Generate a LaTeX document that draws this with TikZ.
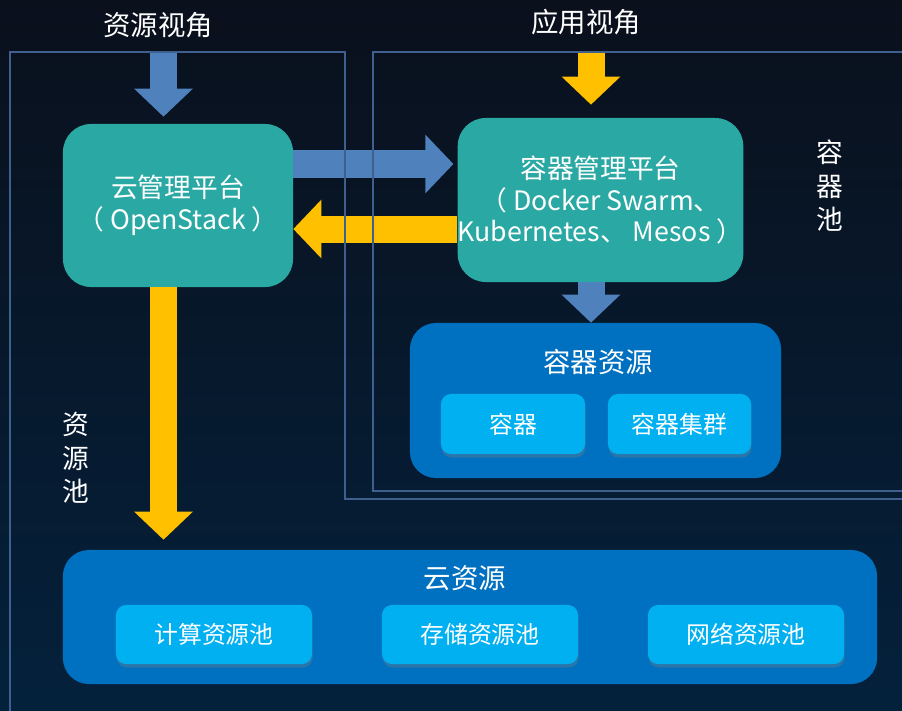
\documentclass[tikz,border=0pt]{standalone}
\usepackage{fontspec}
\setmainfont{Noto Sans CJK SC}
\usetikzlibrary{arrows.meta,shadows}
\definecolor{bgtop}{HTML}{0A101C}
\definecolor{bgbot}{HTML}{04213C}
\definecolor{frameblue}{HTML}{3F5F8E}
\definecolor{tealbox}{HTML}{2AA8A4}
\definecolor{darkbox}{HTML}{0070C0}
\definecolor{lightbox}{HTML}{00B0F0}
\definecolor{arrowblue}{HTML}{4F81BD}
\definecolor{arrowyellow}{HTML}{FFC000}
\tikzset{every node/.style={text=white, inner sep=0pt},
  pool/.style={draw=frameblue, line width=1.4pt},
  platform/.style={fill=tealbox, rounded corners=0.7cm, align=center, font=\fontsize{19}{22.5}\selectfont},
  resgroup/.style={fill=darkbox, rounded corners=0.65cm},
  resitem/.style={fill=lightbox, rounded corners=0.25cm, minimum height=1.5cm,
    font=\fontsize{17}{20}\selectfont,
    drop shadow={opacity=0.35, shadow xshift=0.5pt, shadow yshift=-2.5pt}},
  titletext/.style={font=\fontsize{19.5}{23}\selectfont},
  sidetext/.style={align=center, font=\fontsize{19}{23.8}\selectfont},
  bluearrow/.style={arrowblue, line width=0.675cm, -{Triangle[length=0.7cm, width=1.425cm]}},
  yellowarrow/.style={arrowyellow, line width=0.675cm, -{Triangle[length=0.7cm, width=1.425cm]}}}

\begin{document}
\begin{tikzpicture}[x=0.025cm, y=-0.025cm]
  \useasboundingbox (0,0) rectangle (902,711);
  \fill[top color=bgtop, bottom color=bgbot] (0,0) rectangle (902,711);

  % views
  \node[titletext] (rview) at (158,25) {资源视角};
  \node[titletext] (aview) at (586,22) {应用视角};
  \node[sidetext] (cpool) at (830,186) {容\\器\\池};
  \node[sidetext] (rpool) at (76,458) {资\\源\\池};

  % platforms
  \node[platform, minimum width=5.75cm, minimum height=4.075cm] (cms) at (178,205.5) {云管理平台\\（ OpenStack ）};
  \node[platform, minimum width=7.075cm, minimum height=4.1cm] (cmp) at (600.5,200) {容器管理平台\\（ Docker Swarm、\\Kubernetes、 Mesos ）};

  % container resources
  \node[resgroup, minimum width=9.275cm, minimum height=3.875cm] (crs) at (595.5,400.5) {};
  \node[titletext] (crstitle) at (598,362) {容器资源};
  \node[resitem, minimum width=3.6cm] (ctr) at (513,424) {容器};
  \node[resitem, minimum width=3.575cm] (cclu) at (679.5,424) {容器集群};

  % cloud resources
  \node[resgroup, minimum width=20.35cm, minimum height=3.35cm] (cres) at (470,617) {};
  \node[titletext] (crestitle) at (465,578) {云资源};
  \node[resitem, minimum width=4.9cm, minimum height=1.475cm] (comp) at (214,634.5) {计算资源池};
  \node[resitem, minimum width=4.9cm, minimum height=1.475cm] (stor) at (480,634.5) {存储资源池};
  \node[resitem, minimum width=4.9cm, minimum height=1.475cm] (netw) at (746,634.5) {网络资源池};

  % arrows
  \coordinate (rtop) at (163.5,53);
  \coordinate (atop) at (591,53);
  \draw[bluearrow, shorten >=0.175cm] (rtop) -- (rtop |- cms.north);
  \draw[yellowarrow, shorten >=0.325cm] (atop) -- (atop |- cmp.north);
  \draw[bluearrow, shorten >=0.1cm] (cms.east |- 0,164) -- (cmp.west |- 0,164);
  \draw[yellowarrow] (cmp.west |- 0,229) -- (cms.east |- 0,229);
  \draw[bluearrow] (591,0 |- cmp.south) -- (591,0 |- crs.north);
  \draw[yellowarrow, shorten >=0.25cm] (163.5,0 |- cms.south) -- (163.5,0 |- cres.north);

  % pools
  \draw[pool] (902,499) -- (345,499) -- (345,52) -- (10,52) -- (10,711);
  \draw[pool] (902,52) -- (373,52) -- (373,491) -- (902,491);
\end{tikzpicture}
\end{document}
